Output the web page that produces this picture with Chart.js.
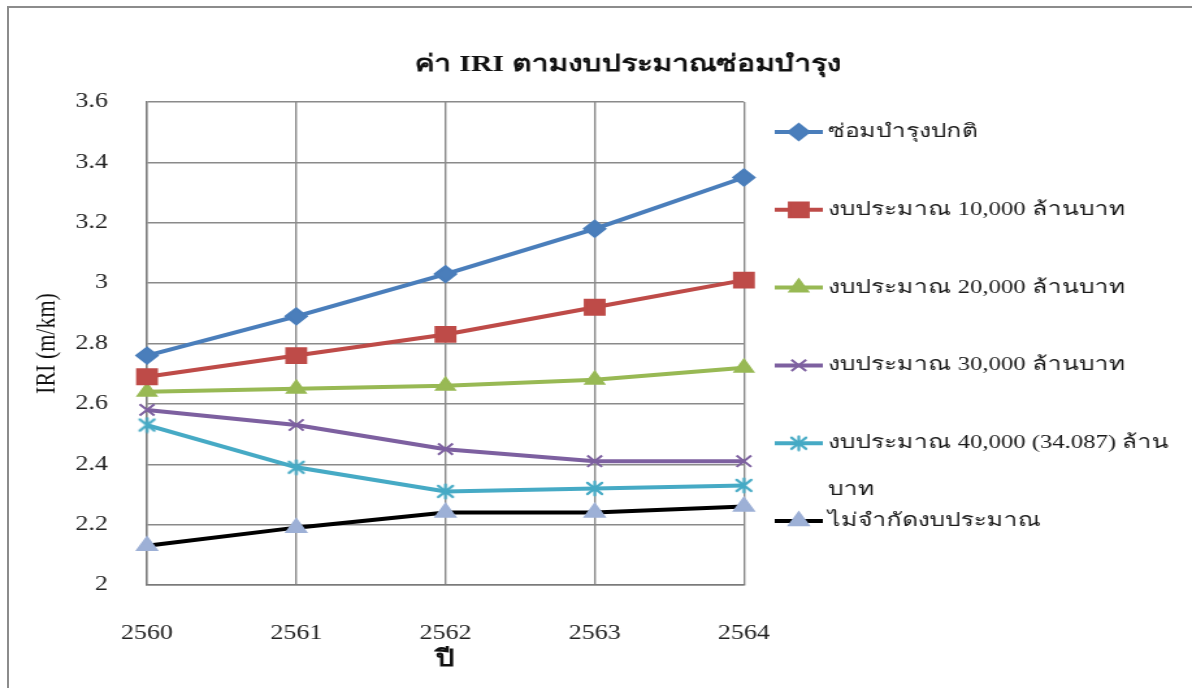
<!DOCTYPE html>
<html>
<head>
<meta charset="utf-8">
<script src="https://cdn.jsdelivr.net/npm/chart.js@4.4.1/dist/chart.umd.min.js"></script>
<style>
  html, body { margin: 0; padding: 0; background: #fff; overflow: hidden; }
  #wrap { position: relative; width: 1192px; height: 688px; overflow: hidden; }
  #frame { position: absolute; left: 7px; top: 6px; width: 1200px; height: 700px; border: 2px solid #8c8c8c; box-sizing: border-box; pointer-events: none; }
  /* the reference picture is horizontally stretched; draw at 917px and stretch to 1192px */
  #c { position: absolute; left: 0; top: 0; width: 917px; height: 688px; transform: scaleX(1.29989); transform-origin: 0 0; }
</style>
</head>
<body>
<div id="wrap">
  <canvas id="c" width="917" height="688"></canvas>
  <div id="frame"></div>
</div>
<script>
const years = ['2560', '2561', '2562', '2563', '2564'];
const seriesNames = [
  'ซ่อมบำรุงปกติ',
  'งบประมาณ 10,000 ล้านบาท',
  'งบประมาณ 20,000 ล้านบาท',
  'งบประมาณ 30,000 ล้านบาท',
  'งบประมาณ 40,000 (34.087) ล้าน\u200Bบาท',
  'ไม่จำกัดงบประมาณ'
];
const normalMaint = [2.76, 2.89, 3.03, 3.18, 3.35];
const budget10k   = [2.69, 2.76, 2.83, 2.92, 3.01];
const budget20k   = [2.64, 2.65, 2.66, 2.68, 2.72];
const budget30k   = [2.58, 2.53, 2.45, 2.41, 2.41];
const budget40k   = [2.53, 2.39, 2.31, 2.32, 2.33];
const unlimited   = [2.13, 2.19, 2.24, 2.24, 2.26];
const yTicks = [2, 2.2, 2.4, 2.6, 2.8, 3, 3.2, 3.4, 3.6];

const SERIF = "'Liberation Serif', 'Times New Roman', serif";

// Excel-style star marker (X plus vertical bar)
function makeStar(color, size) {
  const c = document.createElement('canvas');
  c.width = size; c.height = size;
  const g = c.getContext('2d');
  const m = size / 2, r = size / 2 - 1.5;
  g.strokeStyle = color; g.lineWidth = 2.2; g.lineCap = 'round';
  g.beginPath();
  g.moveTo(m - r * 0.8, m - r * 0.8); g.lineTo(m + r * 0.8, m + r * 0.8);
  g.moveTo(m + r * 0.8, m - r * 0.8); g.lineTo(m - r * 0.8, m + r * 0.8);
  g.moveTo(m, m - r); g.lineTo(m, m + r);
  g.stroke();
  return c;
}

const styles = [
  { line: '#4A7EBB', fill: '#4A7EBB', point: 'rectRot', r: 8 },
  { line: '#BE4B48', fill: '#BE4B48', point: 'rect', r: 10.5 },
  { line: '#98B954', fill: '#98B954', point: 'triangle', r: 8 },
  { line: '#7D60A0', fill: '#7D60A0', point: 'crossRot', r: 8 },
  { line: '#46AAC5', fill: '#46AAC5', point: makeStar('#46AAC5', 17), r: 8 },
  { line: '#000000', fill: '#9DB0D6', point: 'triangle', r: 8.5 }
];
const values = [normalMaint, budget10k, budget20k, budget30k, budget40k, unlimited];

const datasets = values.map((v, i) => ({
  label: seriesNames[i],
  data: v,
  borderColor: styles[i].line,
  backgroundColor: styles[i].fill,
  borderWidth: 4,
  pointStyle: styles[i].point,
  pointRadius: styles[i].r,
  pointHoverRadius: styles[i].r,
  pointBackgroundColor: styles[i].fill,
  pointBorderColor: styles[i].fill,
  pointBorderWidth: 2,
  tension: 0,
  clip: false
}));

const titleShift = {
  id: 'titleShift',
  afterLayout(chart) {
    const t = chart.titleBlock;
    if (t) { t.left = 49; t.right = 917; t.width = t.right - t.left; }
  }
};

const legendPlugin = {
  id: 'sideLegend',
  afterDraw(chart) {
    const ctx = chart.ctx;
    const x0 = 596, lineLen = 37, textX = 637, y0 = 132, step = 77.8;
    ctx.save();
    ctx.font = '19px ' + SERIF;
    ctx.textBaseline = 'middle';
    ctx.textAlign = 'left';
    chart.data.datasets.forEach((ds, i) => {
      const y = y0 + i * step;
      ctx.strokeStyle = ds.borderColor;
      ctx.lineWidth = 4;
      ctx.beginPath();
      ctx.moveTo(x0, y);
      ctx.lineTo(x0 + lineLen, y);
      ctx.stroke();
      ctx.fillStyle = ds.pointBackgroundColor;
      ctx.strokeStyle = ds.pointBorderColor;
      ctx.lineWidth = 2;
      Chart.helpers.drawPoint(ctx, { pointStyle: ds.pointStyle, radius: ds.pointRadius, borderWidth: 2, rotation: 0 }, x0 + lineLen / 2, y);
      const lines = ds.label.split('\u200B');
      ctx.fillStyle = '#1a1a1a';
      lines.forEach((ln, k) => ctx.fillText(ln, textX, y + k * 47));
    });
    ctx.restore();
  }
};

new Chart(document.getElementById('c'), {
  type: 'line',
  data: { labels: years, datasets },
  options: {
    responsive: false,
    animation: false,
    devicePixelRatio: 1,
    layout: { padding: { left: 0, right: 344.7, top: 0, bottom: 0 } },
    plugins: {
      legend: { display: false },
      tooltip: { enabled: false },
      title: {
        display: true,
        text: 'ค่า IRI ตามงบประมาณซ่อมบำรุง',
        color: '#111',
        font: { family: SERIF, size: 23, weight: 'bold', lineHeight: 1.2 },
        padding: { top: 51, bottom: 23.4 },
        align: 'center',
        fullSize: false
      }
    },
    scales: {
      x: {
        offset: false,
        grid: { color: '#8a8a8a', lineWidth: 1.4, drawTicks: false, tickLength: 0 },
        border: { color: '#7a7a7a', width: 1.4 },
        ticks: { color: '#222', font: { family: SERIF, size: 20 }, padding: 37, maxRotation: 0 },
        title: { display: true, text: 'ปี', color: '#111', font: { family: SERIF, size: 23, weight: 'bold', lineHeight: 1.2 }, padding: { top: 14, bottom: 14 } },
        afterFit: s => { s.height = 103; }
      },
      y: {
        min: 2, max: 3.6,
        afterBuildTicks: s => { s.ticks = yTicks.map(v => ({ value: v })); },
        grid: { color: '#8a8a8a', lineWidth: 1.5, drawTicks: false, tickLength: 0 },
        border: { color: '#7a7a7a', width: 1.4 },
        ticks: { color: '#222', font: { family: SERIF, size: 20 }, padding: 30, callback: v => String(v) },
        title: { display: true, text: 'IRI (m/km)', color: '#111', font: { family: SERIF, size: 22, lineHeight: 1.2 }, padding: { top: 23, bottom: 23 } },
        afterFit: s => { s.width = 113.1; }
      }
    }
  },
  plugins: [titleShift, legendPlugin]
});
</script>
</body>
</html>
